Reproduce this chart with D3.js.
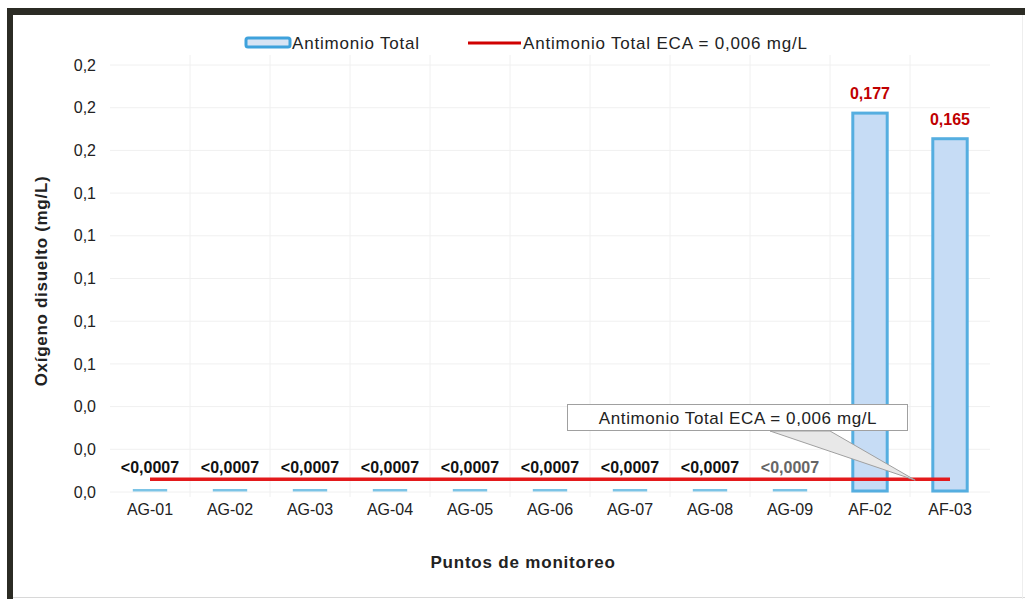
<!DOCTYPE html>
<html>
<head>
<meta charset="utf-8">
<script src="https://cdn.jsdelivr.net/npm/d3@7"></script>
<style>
  body { margin: 0; background: #fff; }
  svg { display: block; font-family: "Liberation Sans", Arial, sans-serif; }
</style>
</head>
<body>
<div id="chart"></div>
<script>
// data
const categories = ['AG-01', 'AG-02', 'AG-03', 'AG-04', 'AG-05', 'AG-06', 'AG-07', 'AG-08', 'AG-09', 'AF-02', 'AF-03'];
const values = [0.0007, 0.0007, 0.0007, 0.0007, 0.0007, 0.0007, 0.0007, 0.0007, 0.0007, 0.177, 0.165];
const valueLabels = ['<0,0007', '<0,0007', '<0,0007', '<0,0007', '<0,0007', '<0,0007', '<0,0007', '<0,0007', '<0,0007', '0,177', '0,165'];
const ecaValue = 0.006;
const yTicks = [0, 0.02, 0.04, 0.06, 0.08, 0.10, 0.12, 0.14, 0.16, 0.18, 0.20];

const width = 1025, height = 599;
const margin = { top: 65, right: 35, bottom: 107, left: 110 };

const svg = d3.select('#chart').append('svg')
    .attr('width', width)
    .attr('height', height);

// frame
svg.append('rect').attr('x', 0).attr('y', 0).attr('width', width).attr('height', height).attr('fill', '#fff');
svg.append('rect').attr('x', 7).attr('y', 8).attr('width', width - 7).attr('height', 7).attr('fill', '#2b2b24');
svg.append('rect').attr('x', 7).attr('y', 8).attr('width', 6).attr('height', height - 8).attr('fill', '#2b2b24');
svg.append('line').attr('x1', 13).attr('x2', width).attr('y1', 597.5).attr('y2', 597.5).attr('stroke', '#d8d8d8');
svg.append('line').attr('x1', 1022.5).attr('x2', 1022.5).attr('y1', 15).attr('y2', height).attr('stroke', '#eeeeee');

const x = d3.scaleBand()
    .domain(categories)
    .range([margin.left, width - margin.right])
    .paddingInner(0.57)
    .paddingOuter(0.285);

const y = d3.scaleLinear()
    .domain([0, 0.2])
    .range([height - margin.bottom, margin.top]);

// grid
const g = svg.append('g');
g.selectAll('.hgrid').data(yTicks).enter().append('line')
    .attr('x1', margin.left).attr('x2', width - margin.right)
    .attr('y1', d => y(d)).attr('y2', d => y(d))
    .attr('stroke', '#f0f0f0');
const step = x.step();
g.selectAll('.vgrid').data(categories.slice(1)).enter().append('line')
    .attr('x1', d => x(d) + x.bandwidth() / 2 - step / 2)
    .attr('x2', d => x(d) + x.bandwidth() / 2 - step / 2)
    .attr('y1', margin.top - 10).attr('y2', y(0) + 5)
    .attr('stroke', '#f0f0f0');

// y axis
const yAxis = d3.axisLeft(y)
    .tickValues(yTicks)
    .tickSize(0)
    .tickPadding(14)
    .tickFormat(d => d3.format('.1f')(d).replace('.', ','));
svg.append('g')
    .attr('transform', `translate(${margin.left},0)`)
    .call(yAxis)
    .call(s => s.select('.domain').remove())
    .selectAll('text')
    .attr('font-size', 16)
    .attr('fill', '#222');

// x axis
const xAxis = d3.axisBottom(x).tickSize(0).tickPadding(12);
svg.append('g')
    .attr('transform', `translate(0,${y(0)})`)
    .call(xAxis)
    .call(s => s.select('.domain').remove())
    .selectAll('text')
    .attr('font-size', 16)
    .attr('fill', '#222');

// bars (tiny ones show as thin dashes)
svg.append('g').selectAll('rect').data(values).enter().append('rect')
    .attr('x', (d, i) => x(categories[i]))
    .attr('width', x.bandwidth())
    .attr('y', d => d > 0.01 ? y(d) - 1 : y(0) - 3)
    .attr('height', d => d > 0.01 ? y(0) - y(d) : 2.5)
    .attr('fill', d => d > 0.01 ? '#c6dcf5' : '#7cc4e6')
    .attr('stroke', d => d > 0.01 ? '#55aee0' : 'none')
    .attr('stroke-width', 3);

// ECA line
const ecaLine = d3.line()
    .x(d => x(d) + x.bandwidth() / 2)
    .y(() => y(ecaValue));
svg.append('path')
    .datum([categories[0], categories[categories.length - 1]])
    .attr('d', ecaLine)
    .attr('fill', 'none')
    .attr('stroke', '#e31a1c')
    .attr('stroke-width', 3.5);

// value labels
svg.append('g').selectAll('text').data(values).enter().append('text')
    .attr('x', (d, i) => x(categories[i]) + x.bandwidth() / 2)
    .attr('y', d => d > 0.05 ? y(d) - 15 : y(ecaValue) - 6)
    .attr('text-anchor', 'middle')
    .attr('font-size', 16)
    .attr('font-weight', 'bold')
    .attr('fill', (d, i) => d > 0.05 ? '#c00000' : (i === 8 ? '#666' : '#111'))
    .text((d, i) => valueLabels[i]);

// callout for ECA
const callX = x('AF-02') + x.bandwidth() + 28;
svg.append('path')
    .attr('d', `M770,431 L830,431 L${callX},${y(ecaValue) + 1} Z`)
    .attr('fill', '#e8e8e8')
    .attr('stroke', '#a0a0a0');
svg.append('rect')
    .attr('x', 567.5).attr('y', 404.5).attr('width', 340).attr('height', 26)
    .attr('fill', '#fff').attr('stroke', '#a0a0a0');
svg.append('text')
    .attr('x', 738).attr('y', 424)
    .attr('text-anchor', 'middle')
    .attr('font-size', 17)
    .attr('letter-spacing', 0.6)
    .attr('fill', '#222')
    .text('Antimonio Total ECA = 0,006 mg/L');

// axis titles
svg.append('text')
    .attr('transform', `translate(47,281) rotate(-90)`)
    .attr('text-anchor', 'middle')
    .attr('font-size', 17)
    .attr('letter-spacing', 0.7)
    .attr('font-weight', 'bold')
    .attr('fill', '#222')
    .text('Oxígeno disuelto (mg/L)');
svg.append('text')
    .attr('x', 523).attr('y', 568)
    .attr('text-anchor', 'middle')
    .attr('font-size', 17)
    .attr('letter-spacing', 0.8)
    .attr('font-weight', 'bold')
    .attr('fill', '#222')
    .text('Puntos de monitoreo');

// legend
const legend = svg.append('g');
legend.append('rect')
    .attr('x', 246).attr('y', 38).attr('width', 44).attr('height', 9)
    .attr('rx', 2)
    .attr('fill', '#d8e4f4').attr('stroke', '#3fa2dc').attr('stroke-width', 3);
legend.append('text')
    .attr('x', 292).attr('y', 49)
    .attr('font-size', 17).attr('letter-spacing', 0.8).attr('fill', '#222')
    .text('Antimonio Total');
legend.append('line')
    .attr('x1', 468).attr('x2', 521).attr('y1', 43).attr('y2', 43)
    .attr('stroke', '#d00000').attr('stroke-width', 3);
legend.append('text')
    .attr('x', 523).attr('y', 49)
    .attr('font-size', 17).attr('letter-spacing', 0.8).attr('fill', '#222')
    .text('Antimonio Total ECA = 0,006 mg/L');
</script>
</body>
</html>
